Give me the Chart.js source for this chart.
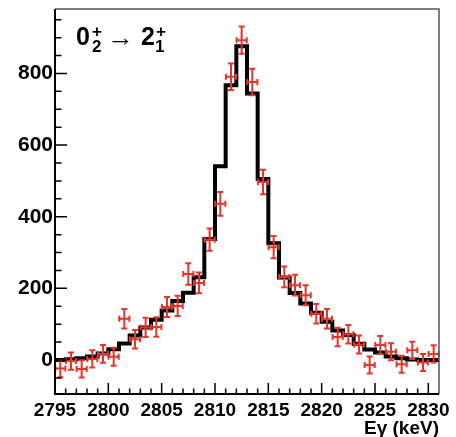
<!DOCTYPE html>
<html>
<head>
<meta charset="utf-8">
<script src="https://cdn.jsdelivr.net/npm/chart.js@4.4.1/dist/chart.umd.min.js"></script>
<style>
  html, body { margin: 0; padding: 0; background: #fff; }
  #wrap { width: 456px; height: 437px; }
</style>
</head>
<body>
<div id="wrap"><canvas id="chart" width="456" height="437"></canvas></div>
<script>
// bin edges in keV (1 keV bins)
const binEdges = [2795, 2796, 2797, 2798, 2799, 2800, 2801, 2802, 2803, 2804, 2805, 2806,
  2807, 2808, 2809, 2810, 2811, 2812, 2813, 2814, 2815, 2816, 2817, 2818, 2819, 2820,
  2821, 2822, 2823, 2824, 2825, 2826, 2827, 2828, 2829, 2830, 2831];

// measured counts per bin (red crosses)
const dataCounts = [-24, -3, -25, 3, 17, 9, 115, 58, 91, 92, 148, 151,
  240, 215, 336, 436, 791, 893, 776, 497, 315, 232, 209, 181,
  129, 115, 64, 72, 43, -14, 42, 23, -12, 27, -7, 17];
const dataErrors = [24, 24, 24, 24, 25, 25, 27, 26, 27, 27, 28, 28,
  30, 29, 31, 33, 37, 38, 37, 34, 31, 29, 29, 28,
  27, 27, 26, 26, 25, 24, 25, 24, 24, 24, 24, 24];

// simulated line shape (black histogram)
const fitCounts = [0, 2, 5, 10, 18, 30, 46, 68, 91, 112, 138, 165,
  188, 231, 338, 541, 767, 876, 744, 505, 326, 230, 187, 158,
  132, 107, 82, 70, 45, 29, 21, 10, 5, 1, 0, 0];

const xTickLabels = [2795, 2800, 2805, 2810, 2815, 2820, 2825, 2830];
const yTickLabels = [0, 200, 400, 600, 800];

const FONT = "'Liberation Sans', Arial, Helvetica, sans-serif";
const RED = '#e8342a';

const histPoints = binEdges.map((x, i) => ({ x, y: fitCounts[Math.min(i, fitCounts.length - 1)] }));
const dataPoints = dataCounts.map((y, i) => ({ x: (binEdges[i] + binEdges[i + 1]) / 2, y }));

/* error bars with end caps, drawn over the histogram */
const errorBars = {
  id: 'errorBars',
  afterDatasetsDraw(chart) {
    const { ctx, scales: { x, y } } = chart;
    const meta = chart.getDatasetMeta(1);
    ctx.save();
    ctx.strokeStyle = RED;
    ctx.lineWidth = 2;
    const cap = 3;
    meta.data.forEach((pt, i) => {
      const px = pt.x, py = pt.y;
      const x0 = x.getPixelForValue(binEdges[i]), x1 = x.getPixelForValue(binEdges[i + 1]);
      const y0 = y.getPixelForValue(dataCounts[i] - dataErrors[i]);
      const y1 = y.getPixelForValue(dataCounts[i] + dataErrors[i]);
      const xl = px + (x0 - px) * 0.95, xr = px + (x1 - px) * 0.95;
      ctx.beginPath();
      ctx.moveTo(px, y0); ctx.lineTo(px, y1);
      ctx.moveTo(xl, py); ctx.lineTo(xr, py);
      ctx.moveTo(px - cap, y0); ctx.lineTo(px + cap, y0);
      ctx.moveTo(px - cap, y1); ctx.lineTo(px + cap, y1);
      ctx.moveTo(xl, py - cap); ctx.lineTo(xl, py + cap);
      ctx.moveTo(xr, py - cap); ctx.lineTo(xr, py + cap);
      ctx.stroke();
    });
    ctx.restore();
  }
};

/* ROOT style frame with inward ticks + the transition label */
const frame = {
  id: 'frame',
  afterDraw(chart) {
    const { ctx, chartArea: a, scales: { x, y } } = chart;
    ctx.save();
    ctx.strokeStyle = '#000';
    ctx.lineWidth = 1.5;
    ctx.beginPath();
    x.ticks.forEach(t => {
      if (t.value <= x.min || t.value >= x.max) return;
      const px = x.getPixelForValue(t.value);
      const len = xTickLabels.includes(t.value) ? 11 : 5.5;
      ctx.moveTo(px, a.bottom); ctx.lineTo(px, a.bottom - len);
    });
    y.ticks.forEach(t => {
      const py = y.getPixelForValue(t.value);
      const len = yTickLabels.includes(t.value) ? 12 : 6.5;
      ctx.moveTo(a.left, py); ctx.lineTo(a.left + len, py);
    });
    ctx.stroke();

    ctx.strokeStyle = '#555';
    ctx.lineWidth = 1.5;
    ctx.beginPath();
    ctx.moveTo(a.left, a.top); ctx.lineTo(a.right, a.top); ctx.lineTo(a.right, a.bottom);
    ctx.stroke();
    ctx.strokeStyle = '#000';
    ctx.lineWidth = 2;
    ctx.beginPath();
    ctx.moveTo(a.left, a.top); ctx.lineTo(a.left, a.bottom); ctx.lineTo(a.right, a.bottom);
    ctx.stroke();

    // 0_2^+ -> 2_1^+
    ctx.fillStyle = '#000';
    ctx.textBaseline = 'alphabetic';
    ctx.textAlign = 'left';
    ctx.font = 'bold 25px ' + FONT;
    ctx.fillText('0', 76, 45);
    ctx.fillText('2', 141, 45);
    ctx.font = 'bold 17px ' + FONT;
    ctx.fillText('+', 92, 37);
    ctx.fillText('2', 92, 52);
    ctx.fillText('+', 156, 37);
    ctx.fillText('1', 155, 52);
    ctx.font = '25px ' + FONT;
    const w = ctx.measureText('\u2192').width;
    ctx.save();
    ctx.translate(107, 46);
    ctx.scale(27 / w, 1);
    ctx.fillText('\u2192', 0, 0);
    ctx.restore();
    ctx.restore();
  }
};

new Chart(document.getElementById('chart'), {
  data: {
    datasets: [{
      type: 'line',
      data: histPoints,
      stepped: 'before',
      borderColor: '#000',
      borderWidth: 4,
      borderJoinStyle: 'miter',
      borderCapStyle: 'butt',
      pointRadius: 0,
      fill: false
    }, {
      type: 'scatter',
      data: dataPoints,
      pointRadius: 0,
      pointHoverRadius: 0
    }]
  },
  options: {
    responsive: false,
    animation: false,
    devicePixelRatio: 1,
    events: [],
    layout: { padding: { top: 9, right: 17, left: 0, bottom: 0 } },
    plugins: { legend: { display: false }, tooltip: { enabled: false } },
    scales: {
      x: {
        type: 'linear',
        min: 2795,
        max: 2831,
        grid: { display: false, drawTicks: false },
        border: { display: false },
        afterBuildTicks: s => {
          const t = [];
          for (let v = 2795; v <= 2831; v++) t.push({ value: v });
          s.ticks = t;
        },
        afterFit: s => { s.height = 43; s.paddingLeft = 0; s.paddingRight = 0; },
        ticks: {
          autoSkip: false,
          maxRotation: 0,
          padding: 5,
          color: '#000',
          font: { family: FONT, size: 19, weight: 'bold' },
          callback: v => xTickLabels.includes(v) ? String(v) : ''
        },
        title: {
          display: true,
          text: 'Eγ (keV)',
          align: 'end',
          color: '#000',
          font: { family: FONT, size: 19, weight: 'bold', lineHeight: 0.9 },
          padding: { top: 0, bottom: 0 }
        }
      },
      y: {
        type: 'linear',
        min: -95,
        max: 980,
        grid: { display: false, drawTicks: false },
        border: { display: false },
        afterBuildTicks: s => {
          const t = [];
          for (let v = -50; v <= 950; v += 50) t.push({ value: v });
          s.ticks = t;
        },
        afterFit: s => { s.width = 55; s.paddingTop = 0; s.paddingBottom = 0; },
        ticks: {
          autoSkip: false,
          padding: 2,
          color: '#000',
          font: { family: FONT, size: 21, weight: 'bold' },
          callback: v => yTickLabels.includes(v) ? String(v) : ''
        }
      }
    }
  },
  plugins: [errorBars, frame]
});
</script>
</body>
</html>
